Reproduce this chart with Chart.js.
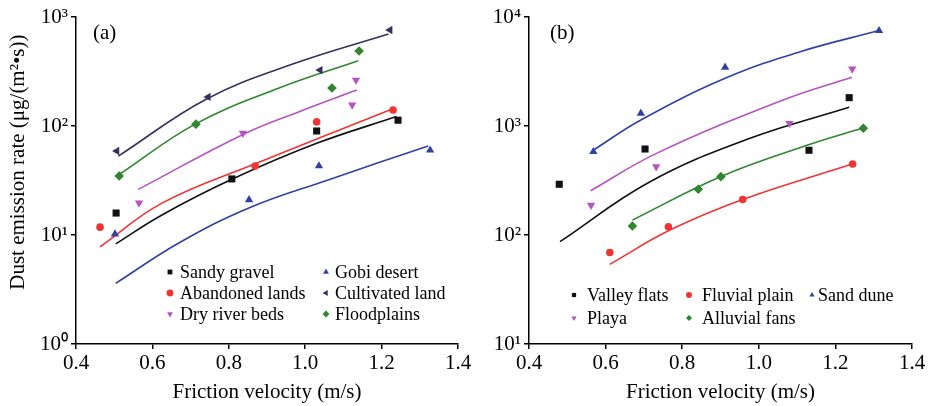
<!DOCTYPE html>
<html>
<head>
<meta charset="utf-8">
<script src="https://cdn.jsdelivr.net/npm/chart.js@4.4.0/dist/chart.umd.min.js"></script>
<style>
  html, body { margin:0; padding:0; background:#fff; }
  #wrap { position:relative; width:929px; height:406px; overflow:hidden; }
  #boxA { position:absolute; left:0; top:0; }
  #boxB { position:absolute; left:470px; top:0; }
</style>
</head>
<body>
<div id="wrap">
  <div id="boxA"><canvas id="chartA" width="480" height="406"></canvas></div>
  <div id="boxB"><canvas id="chartB" width="459" height="406"></canvas></div>
</div>
<script>
// ---- panel (a) measured points ----
var sandyX = [0.505, 0.808, 1.03, 1.243];
var sandyY = [15.9, 32.7, 90, 113];
var abandX = [0.463, 0.869, 1.03, 1.23];
var abandY = [11.8, 43, 109, 140];
var dryX   = [0.565, 0.837, 1.123, 1.133];
var dryY   = [19.7, 86, 156, 264];
var gobiX  = [0.502, 0.853, 1.036, 1.327];
var gobiY  = [10.2, 21, 43, 60];
var cultX  = [0.507, 0.746, 1.039, 1.222];
var cultY  = [59, 185, 326, 760];
var floodX = [0.513, 0.714, 1.07, 1.141];
var floodY = [34.8, 104, 223, 487];

// ---- panel (a) fitted curves ----
var sandyFitX = [0.504, 0.624, 0.808, 1.03, 1.239];
var sandyFitY = [8.3, 15.2, 32.4, 69.3, 122];
var abandFitX = [0.463, 0.624, 0.869, 1.231];
var abandFitY = [7.8, 19.5, 45, 145];
var dryFitX   = [0.563, 0.840, 0.991, 1.135];
var dryFitY   = [26.2, 84.5, 138, 214];
var gobiFitX  = [0.504, 0.668, 0.851, 1.060, 1.322];
var gobiFitY  = [3.6, 8.4, 17.6, 32, 65.6];
var cultFitX  = [0.511, 0.742, 0.973, 1.218];
var cultFitY  = [53, 177, 376, 698];
var floodFitX = [0.511, 0.712, 0.930, 1.139];
var floodFitY = [35.5, 104, 222, 397];

// ---- panel (b) measured points ----
var valleyX = [0.479, 0.703, 1.131, 1.236];
var valleyY = [292, 615, 599, 1820];
var fluvX   = [0.611, 0.764, 0.958, 1.245];
var fluvY   = [69, 119, 212, 448];
var duneX   = [0.568, 0.692, 0.912, 1.314];
var duneY   = [581, 1306, 3450, 7490];
var playaX  = [0.562, 0.732, 1.08, 1.244];
var playaY  = [188, 424, 1059, 3333];
var alluvX  = [0.670, 0.842, 0.901, 1.273];
var alluvY  = [121, 263, 343, 953];

// ---- panel (b) fitted curves ----
var valleyFitX = [0.481, 0.716, 0.977, 1.236];
var valleyFitY = [87, 308, 771, 1483];
var fluvFitX   = [0.611, 0.768, 0.958, 1.244];
var fluvFitY   = [53.8, 111, 212, 448];
var duneFitX   = [0.568, 0.692, 0.912, 1.108, 1.312];
var duneFitY   = [600, 1135, 2738, 4808, 7490];
var playaFitX  = [0.561, 0.733, 1.064, 1.243];
var playaFitY  = [255, 561, 1733, 2800];
var alluvFitX  = [0.670, 0.900, 1.134, 1.270];
var alluvFitY  = [137, 343, 679, 953];

// ---- axes ----
var xTicks = [0.4, 0.6, 0.8, 1.0, 1.2, 1.4];
var yTicksA = [1, 10, 100, 1000];
var yLabelsA = ['10\u2070', '10\u00b9', '10\u00b2', '10\u00b3'];
var yTicksB = [10, 100, 1000, 10000];
var yLabelsB = ['10\u00b9', '10\u00b2', '10\u00b3', '10\u2074'];

var FONT = '"Liberation Serif", "Times New Roman", serif';
var C = {
  black: '#111111', red: '#f03434', blue: '#3041a3',
  navy: '#36305f', purple: '#b553bf', green: '#2f862f'
};

function pts(xs, ys){
  var out = [];
  for (var i=0;i<xs.length;i++) out.push({x: xs[i], y: ys[i]});
  return out;
}

function markSet(label, xs, ys, color, style, rot, r){
  return {
    label: label, data: pts(xs, ys), showLine: false,
    pointStyle: style, rotation: rot || 0, pointRadius: r,
    backgroundColor: color, borderColor: color, borderWidth: 0
  };
}

function fitSet(xs, ys, color){
  return {
    label: '', data: pts(xs, ys), showLine: true, pointRadius: 0,
    borderColor: color, borderWidth: 1.6, fill: false, tension: 0.4
  };
}

var legendPlugin = {
  id: 'panelLegend',
  afterDraw: function(chart, args, o){
    var ctx = chart.ctx, ca = chart.chartArea;
    ctx.save();
    ctx.font = o.fontSize + 'px ' + FONT;
    ctx.textBaseline = 'middle';
    ctx.textAlign = 'left';
    for (var i=0;i<o.items.length;i++){
      var ds = chart.data.datasets[o.items[i]];
      var col = i % o.cols, row = Math.floor(i / o.cols);
      var mx = ca.left + o.colX[col], my = ca.top + o.top + row*o.rowH;
      ctx.fillStyle = ds.backgroundColor; ctx.strokeStyle = ds.backgroundColor; ctx.lineWidth = 0;
      Chart.helpers.drawPoint(ctx, {pointStyle: ds.pointStyle, radius: o.markR, rotation: ds.rotation, borderWidth: 0}, mx, my);
      ctx.fillStyle = '#000';
      ctx.fillText(ds.label, mx + o.textDx[col], my + 1);
    }
    ctx.font = '21px ' + FONT;
    ctx.fillText(o.tag, ca.left + o.tagX, ca.top + 16);
    ctx.restore();
  }
};

function scales(yMin, yMax, yTicks, yLabels, yWidth, yTitle){
  return {
    x: {
      type: 'linear', min: 0.4, max: 1.4,
      afterBuildTicks: function(s){ s.ticks = xTicks.map(function(v){ return {value: v}; }); },
      afterFit: function(s){ s.height = 62; },
      ticks: { color:'#000', font:{family: FONT, size: 21}, padding: 2,
               callback: function(v){ return Number(v).toFixed(1); } },
      grid: { drawOnChartArea:false, drawTicks:true, tickLength:5, color:'#000', lineWidth:1.5 },
      border: { display:true, color:'#000', width:1.5 },
      title: { display:true, text:'Friction velocity (m/s)', color:'#000',
               font:{family: FONT, size: 21}, padding:{top:0, bottom:1} }
    },
    y: {
      type: 'logarithmic', min: yMin, max: yMax,
      afterBuildTicks: function(s){ s.ticks = yTicks.map(function(v){ return {value: v}; }); },
      afterFit: function(s){ s.width = yWidth; },
      ticks: { color:'#000', font:{family: FONT, size: 21}, padding: 3,
               callback: function(v){ var k = yTicks.indexOf(v); return k >= 0 ? yLabels[k] : ''; } },
      grid: { drawOnChartArea:false, drawTicks:true, tickLength:5, color:'#000', lineWidth:1.5 },
      border: { display:true, color:'#000', width:1.5 },
      title: { display: !!yTitle, text: yTitle || '', color:'#000',
               font:{family: FONT, size: 21}, padding:{top:6, bottom:0} }
    }
  };
}

new Chart(document.getElementById('chartA'), {
  type: 'scatter',
  data: { datasets: [
    markSet('Sandy gravel', sandyX, sandyY, C.black, 'rect', 0, 5),
    markSet('Abandoned lands', abandX, abandY, C.red, 'circle', 0, 3.8),
    markSet('Dry river beds', dryX, dryY, C.purple, 'triangle', 180, 4.8),
    markSet('Gobi desert', gobiX, gobiY, C.blue, 'triangle', 0, 4.8),
    markSet('Cultivated land', cultX, cultY, C.navy, 'triangle', -90, 4.8),
    markSet('Floodplains', floodX, floodY, C.green, 'rectRot', 0, 4.8),
    fitSet(sandyFitX, sandyFitY, C.black),
    fitSet(abandFitX, abandFitY, C.red),
    fitSet(dryFitX, dryFitY, C.purple),
    fitSet(gobiFitX, gobiFitY, C.blue),
    fitSet(cultFitX, cultFitY, C.navy),
    fitSet(floodFitX, floodFitY, C.green)
  ]},
  options: {
    responsive: false, animation: false,
    layout: { padding: { left:0, right:22, top:17, bottom:0 } },
    plugins: {
      legend: { display:false }, tooltip: { enabled:false },
      panelLegend: { items:[0,3,1,4,2,5], cols:2, colX:[94,250], textDx:[10,9], top:255, rowH:21,
                     fontSize:18, markR:3.4, tag:'(a)', tagX:17 }
    },
    scales: scales(1, 1000, yTicksA, yLabelsA, 76,
      '\u00a0\u00a0\u00a0\u00a0\u00a0\u00a0\u00a0Dust emission rate (\u03bcg/(m\u00b2\u2022s))')
  },
  plugins: [legendPlugin]
});

new Chart(document.getElementById('chartB'), {
  type: 'scatter',
  data: { datasets: [
    markSet('Valley flats', valleyX, valleyY, C.black, 'rect', 0, 5),
    markSet('Fluvial plain', fluvX, fluvY, C.red, 'circle', 0, 3.8),
    markSet('Sand dune', duneX, duneY, C.blue, 'triangle', 0, 4.8),
    markSet('Playa', playaX, playaY, C.purple, 'triangle', 180, 4.8),
    markSet('Alluvial fans', alluvX, alluvY, C.green, 'rectRot', 0, 4.8),
    fitSet(valleyFitX, valleyFitY, C.black),
    fitSet(fluvFitX, fluvFitY, C.red),
    fitSet(duneFitX, duneFitY, C.blue),
    fitSet(playaFitX, playaFitY, C.purple),
    fitSet(alluvFitX, alluvFitY, C.green)
  ]},
  options: {
    responsive: false, animation: false,
    layout: { padding: { left:0, right:17, top:17, bottom:0 } },
    plugins: {
      legend: { display:false }, tooltip: { enabled:false },
      panelLegend: { items:[0,1,2,3,4], cols:3, colX:[45,160,283], textDx:[13,13,6], top:278, rowH:23,
                     fontSize:18, markR:3, tag:'(b)', tagX:21 }
    },
    scales: scales(10, 10000, yTicksB, yLabelsB, 59, '')
  },
  plugins: [legendPlugin]
});
</script>
</body>
</html>
